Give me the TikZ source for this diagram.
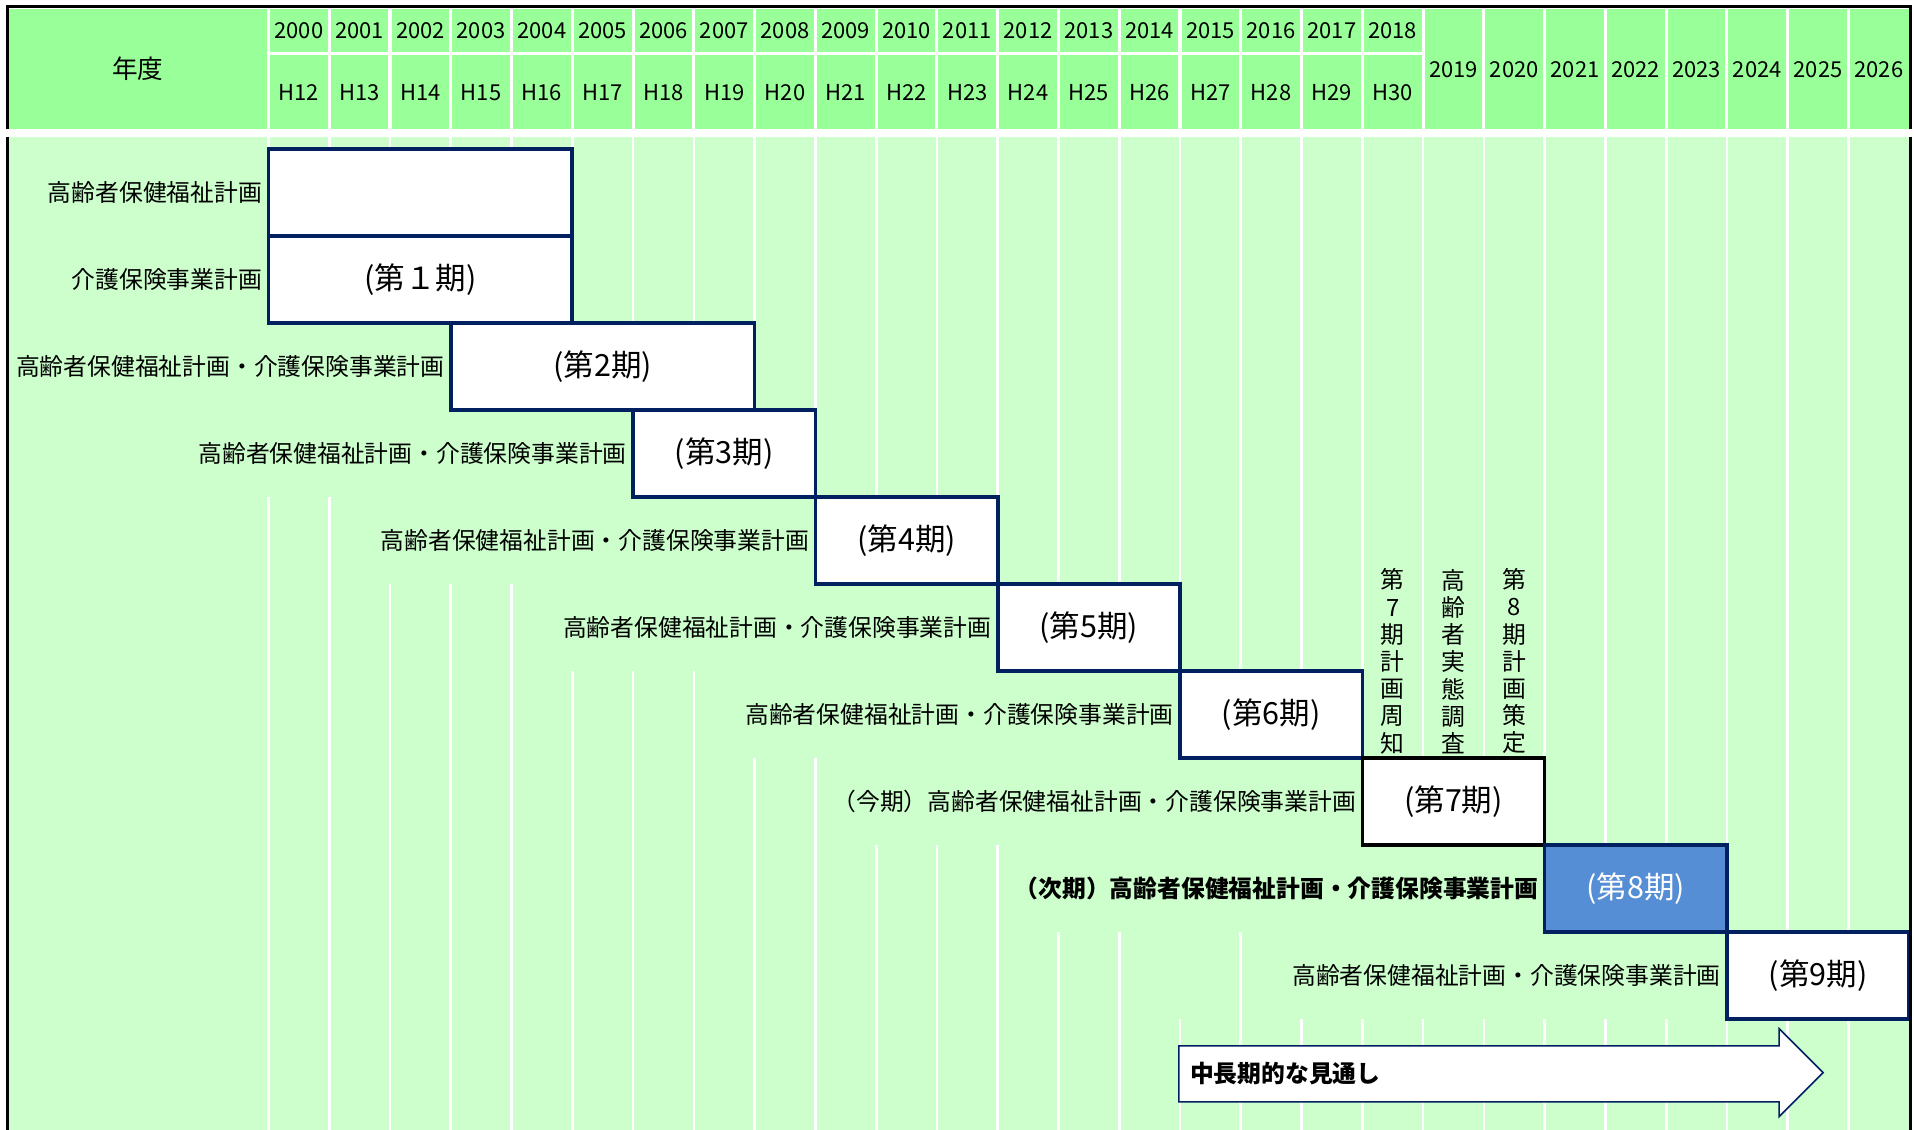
\documentclass[tikz,border=0pt]{standalone}
\usepackage{fontspec}
\setmainfont{Noto Sans CJK JP}
\usetikzlibrary{positioning}

\definecolor{headgreen}{HTML}{99FF99}
\definecolor{bodygreen}{HTML}{CCFFCC}
\definecolor{planblue}{HTML}{002060}
\definecolor{nextfill}{HTML}{558ED5}

\tikzset{
  gridline/.style={white, line width=2.2},
  periodbox/.style={draw=planblue, fill=white, line width=3, minimum height=71.3,
                    inner sep=0, font=\fontsize{25}{28}\selectfont},
  planlabel/.style={inner sep=0, font=\fontsize{19.5}{22}\selectfont},
  yearlabel/.style={inner sep=0, font=\fontsize{18}{20}\selectfont},
  stepnote/.style={inner sep=0, align=center, font=\fontsize{19.5}{22.3}\selectfont},
}

\begin{document}
\begin{tikzpicture}[x=1pt, y=-1pt]

    \def\cw{49.8}
    \def\rh{71.3}
    \useasboundingbox (0,0) rectangle (1568.5,926);

    % header
    \fill[headgreen] (7,7) rectangle (1565,106);
    \foreach \k in {0,...,26}
        \draw[gridline, line width=2.5] (220+\k*\cw,7) -- (220+\k*\cw,106);
    \draw[gridline, line width=2.5] (220,44) -- (220+19*\cw,44);

    \node[planlabel, font=\fontsize{21}{24}\selectfont] (nendo) at (113,56) {年度};
    \foreach \k [evaluate=\k as \yr using int(2000+\k), evaluate=\k as \hy using int(12+\k)] in {0,...,18} {
        \node[yearlabel] (y\k) at (220+\k*\cw+\cw/2,25) {\yr};
        \node[yearlabel] (h\k) at (220+\k*\cw+\cw/2,76) {H\hy};
    }
    \foreach \k [evaluate=\k as \yr using int(2000+\k)] in {19,...,26}
        \node[yearlabel] (y\k) at (220+\k*\cw+\cw/2,57) {\yr};

    % body
    \fill[bodygreen] (7,112) rectangle (1565,926);
    \foreach \k in {0,...,26}
        \draw[gridline] (220+\k*\cw,112) -- (220+\k*\cw,926);
    \foreach \r/\a/\b in {3/0/2, 4/0/5, 5/2/8, 6/5/11, 7/8/14, 8/10/17, 9/13/20, 10/15/15, 10/17/23}
        \fill[bodygreen] (220+\a*\cw-20,122+\r*\rh-\rh) rectangle (220+\b*\cw+20,122+\r*\rh);

    % plan periods
    \node[periodbox, minimum width=5*\cw] (p0) at (220+2.5*\cw,122+0.5*\rh) {};
    \node[periodbox, minimum width=5*\cw] (p1) at (220+2.5*\cw,122+1.5*\rh) {(第１期)};
    \node[periodbox, minimum width=5*\cw] (p2) at (220+5.5*\cw,122+2.5*\rh) {(第2期)};
    \foreach \n/\c in {3/6, 4/9, 5/12, 6/15}
        \node[periodbox, minimum width=3*\cw] (p\n) at (220+\c*\cw+1.5*\cw,122+\n*\rh+0.5*\rh) {(第{\n}期)};
    \node[periodbox, draw=black, minimum width=3*\cw] (p7) at (220+19.5*\cw,122+7.5*\rh) {(第7期)};
    \node[periodbox, fill=nextfill, text=white, minimum width=3*\cw] (p8) at (220+22.5*\cw,122+8.5*\rh) {(第8期)};
    \node[periodbox, minimum width=3*\cw] (p9) at (220+25.5*\cw,122+9.5*\rh) {(第9期)};

    \node[planlabel, left=3.5pt of p0] (l0) {高齢者保健福祉計画};
    \node[planlabel, left=3.5pt of p1] (l1) {介護保険事業計画};
    \foreach \n in {2,...,6,9}
        \node[planlabel, left=3.5pt of p\n] (l\n) {高齢者保健福祉計画・介護保険事業計画};
    \node[planlabel, left=3.5pt of p7] (l7) {（今期）高齢者保健福祉計画・介護保険事業計画};
    \node[planlabel, font=\bfseries\fontsize{19.5}{22}\selectfont, left=3.5pt of p8] (l8) {（次期）高齢者保健福祉計画・介護保険事業計画};

    % steps before the next plan
    \node[stepnote, anchor=south] (s1) at (220+18.5*\cw,618) {第\\7\\期\\計\\画\\周\\知};
    \node[stepnote, anchor=south] (s2) at (220+19.5*\cw,618) {高\\齢\\者\\実\\態\\調\\査};
    \node[stepnote, anchor=south] (s3) at (220+20.5*\cw,618) {第\\8\\期\\計\\画\\策\\定};

    % outlook arrow
    \draw[planblue, line width=1.2, fill=white] (966,857) -- (1458,857) -- (1458,843) -- (1494,879)
        -- (1458,915) -- (1458,903) -- (966,903) -- cycle;
    \node[planlabel, font=\bfseries\fontsize{19.5}{22}\selectfont, anchor=west] (outlook) at (975,880) {中長期的な見通し};

    % frame
    \draw[line width=2.5] (6,106) -- (6,5) -- (1566,5) -- (1566,106);
    \draw[line width=2.5] (6,112) -- (6,926) (1566,112) -- (1566,926);
\end{tikzpicture}
\end{document}
